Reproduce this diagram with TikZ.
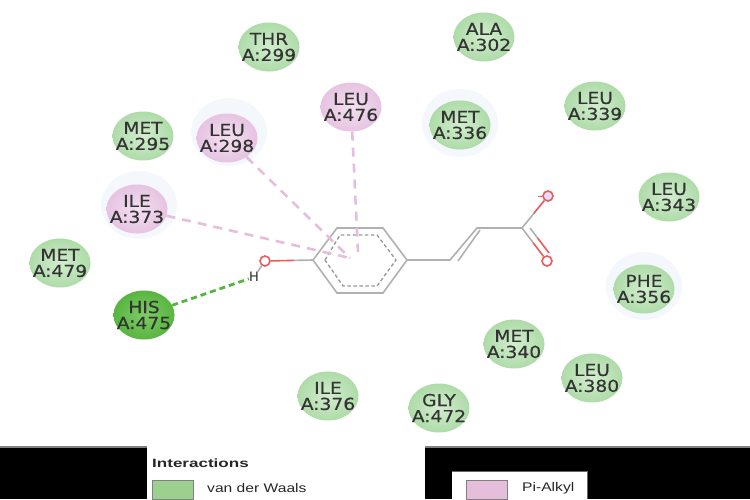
\documentclass[tikz,border=0pt]{standalone}
\usepackage{fontspec}
\setmainfont{DejaVu Sans}
\newfontfamily\resfont[FakeStretch=1.13,FakeBold=0.4]{DejaVu Sans}
\newfontfamily\legendfont[FakeStretch=1.25]{Liberation Sans}
\newfontfamily\legendbold[FakeStretch=1.42]{Liberation Sans Bold}
\usetikzlibrary{calc,shapes.geometric}
\definecolor{vdwE}{HTML}{AEDBA8}
\definecolor{vdwC}{HTML}{D2EDCE}
\definecolor{pinkE}{HTML}{E6C3E2}
\definecolor{pinkC}{HTML}{F3E0F0}
\definecolor{hisE}{HTML}{58B540}
\definecolor{hisC}{HTML}{7FCB68}
\definecolor{halo}{HTML}{F4F8FC}
\definecolor{bondgrey}{HTML}{B0B0B0}
\definecolor{oxy}{HTML}{EE5A5A}
\definecolor{pidash}{HTML}{E6BEDC}
\definecolor{hbdash}{HTML}{55B53C}
\definecolor{swgreen}{HTML}{9CD08E}
\definecolor{swpink}{HTML}{E6BEDC}
\tikzset{
 x=1pt,y=-1pt,
 residue/.style={ellipse,minimum width=61pt,minimum height=49pt,inner xsep=-8pt,inner ysep=0pt,align=center,
   font=\resfont\fontsize{16.5}{16}\selectfont,text=black!80},
 vdw/.style={residue,inner color=vdwC,outer color=vdwE},
 pialkyl/.style={residue,inner color=pinkC,outer color=pinkE},
 hbond/.style={residue,inner color=hisC,outer color=hisE},
 halobox/.style={ellipse,fill=halo,minimum width=76pt,minimum height=68pt,inner sep=0pt},
 bond/.style={draw=bondgrey,line width=1.6pt},
 oxbond/.style={draw=oxy,line width=1.6pt},
 innerbond/.style={draw=bondgrey!85!black,line width=1.3pt,dash pattern=on 3.5pt off 2.5pt},
 pidashed/.style={draw=pidash,line width=2.6pt,dash pattern=on 9pt off 7pt},
 hbdashed/.style={draw=hbdash,line width=2.8pt,dash pattern=on 6pt off 4pt},
 oxatom/.style={circle,draw=oxy,line width=1.6pt,minimum size=10pt,inner sep=0pt},
 blackpanel/.style={fill=black,draw=none},
 swatch/.style={draw=black!50,line width=1.4pt},
 legendtext/.style={font=\legendfont\fontsize{12.5}{12.5}\selectfont,anchor=west,text=black!85},
}
\begin{document}
\begin{tikzpicture}
\useasboundingbox (0,0) rectangle (750,499);
% halos
\node[halobox] at (229,132) {};
\node[halobox] at (460,123) {};
\node[halobox] at (644,286) {};
\node[halobox] at (139,205) {};
% residues
\node[vdw] (thr299) at (269,47) {THR\\A:299};
\node[vdw] (ala302) at (484,37) {ALA\\A:302};
\node[vdw] (leu339) at (595,106) {LEU\\A:339};
\node[vdw] (met336) at (460,125) {MET\\A:336};
\node[pialkyl] (leu476) at (351,107) {LEU\\A:476};
\node[pialkyl] (leu298) at (227,138) {LEU\\A:298};
\node[vdw] (met295) at (143,136) {MET\\A:295};
\node[pialkyl] (ile373) at (137,209) {ILE\\A:373};
\node[vdw] (met479) at (60,263) {MET\\A:479};
\node[hbond] (his475) at (144,315) {HIS\\A:475};
\node[vdw] (leu343) at (669,197) {LEU\\A:343};
\node[vdw] (phe356) at (644,289) {PHE\\A:356};
\node[vdw] (met340) at (514,344) {MET\\A:340};
\node[vdw] (leu380) at (592,378) {LEU\\A:380};
\node[vdw] (ile376) at (328,396) {ILE\\A:376};
\node[vdw] (gly472) at (439,408) {GLY\\A:472};
% ring coordinates
\coordinate (r1) at (313,260);
\coordinate (r2) at (337,228);
\coordinate (r3) at (383,228);
\coordinate (r4) at (407,260);
\coordinate (r5) at (383,293);
\coordinate (r6) at (337,293);
\coordinate (i1) at (325,260);
\coordinate (i2) at (340,235);
\coordinate (i3) at (377,235);
\coordinate (i4) at (396,260);
\coordinate (i5) at (377,286);
\coordinate (i6) at (343,286);
\coordinate (c1) at (450,260);
\coordinate (c2) at (477,228);
\coordinate (c1b) at (458,261);
\coordinate (c2b) at (480,230);
\coordinate (c3) at (522,228);
\coordinate (pa) at (350,258);
\coordinate (pb) at (358,252);
% ring and chain
\draw[bond] (r1)--(r2)--(r3)--(r4)--(r5)--(r6)--cycle;
\draw[innerbond] (i1)--(i2)--(i3)--(i4)--(i5)--(i6)--cycle;
\draw[bond] (r4)--(c1)--(c2)--(c3);
\draw[bond] (c1b)--(c2b);
% oxygens
\node[oxatom] (oh) at (265,261) {};
\node[oxatom,fill=blue!12] (om) at (548,196) {};
\node[oxatom] (od) at (547,261) {};
\node[font=\fontsize{13}{13}\selectfont,inner sep=0pt,text=black!85] (h) at (254,277) {H};
\draw[oxbond] (oh)--($(oh)!0.6!(r1)$);
\draw[bond] ($(oh)!0.6!(r1)$)--(r1);
\draw[bond] (oh)--(h);
\draw[bond] (c3)--($(c3)!0.45!(om)$);
\draw[oxbond] ($(c3)!0.45!(om)$)--(om);
\draw[bond] (c3)--($(c3)!0.45!(od)$);
\draw[oxbond] ($(c3)!0.45!(od)$)--(od);
\coordinate (c3b) at (530,228);
\coordinate (od2) at (549,253);
\draw[bond] (c3b)--($(c3b)!0.4!(od2)$);
\draw[oxbond] ($(c3b)!0.4!(od2)$)--(od2);
\coordinate (minusA) at (538,196);
\coordinate (minusB) at (542,196);
\draw[draw=oxy,line width=1pt] (minusA)--(minusB);
% interactions
\draw[pidashed] (leu298)--(pa);
\draw[pidashed] (ile373)--(pa);
\draw[pidashed] (leu476)--(pb);
\draw[hbdashed] (his475)--(h);
% legend
\fill[blackpanel] (0,447) rectangle (147,499);
\fill[blackpanel] (425,447) rectangle (750,499);
\draw[black!50,line width=1.5pt] (0,447)--(147,447) (425,447)--(750,447);
\fill[white] (452,471) rectangle (587,499);
\draw[black!60,line width=.8pt] (452,471)--(587,471)--(587,499);
\node[font=\legendbold\fontsize{12}{12}\selectfont,anchor=west,inner sep=0pt,text=black!85] (ttl) at (152,463) {Interactions};
\node[swatch,fill=swgreen,minimum width=41pt,minimum height=19pt,inner sep=0pt,anchor=north west] (s1) at (152,480) {};
\node[legendtext,inner sep=0pt] (t1) at (207,488) {van der Waals};
\node[swatch,fill=swpink,minimum width=41pt,minimum height=19pt,inner sep=0pt,anchor=north west] (s2) at (466,480) {};
\node[legendtext,inner sep=0pt] (t2) at (522,488) {Pi-Alkyl};
\end{tikzpicture}
\end{document}
